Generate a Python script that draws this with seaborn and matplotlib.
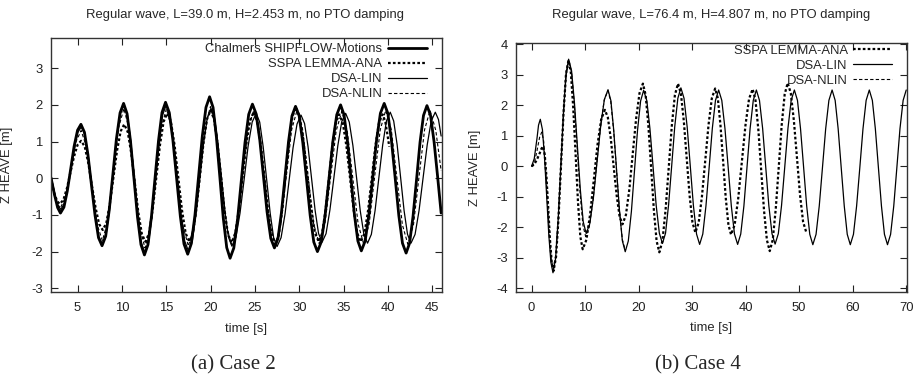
import matplotlib
matplotlib.use("Agg")
import matplotlib.pyplot as plt
import seaborn as sns

sns.set_theme(style="ticks")
plt.rcParams["font.family"] = ["Liberation Sans", "DejaVu Sans"]
plt.rcParams["axes.unicode_minus"] = False

# ---------------- Case 2 (left) ----------------
chalmers_t = [2.0, 2.4, 2.75,
              3.07, 3.46, 3.84, 4.23, 4.61, 5.0,
              5.38, 5.78, 6.17, 6.57, 6.97, 7.36,
              7.76, 8.17, 8.57, 8.98, 9.38, 9.79,
              10.19, 10.58, 10.97, 11.37, 11.76, 12.15,
              12.54, 12.94, 13.33, 13.73, 14.13, 14.52,
              14.92, 15.34, 15.75, 16.17, 16.59, 17.0,
              17.42, 17.83, 18.24, 18.66, 19.07, 19.48,
              19.89, 20.28, 20.66, 21.05, 21.43, 21.82,
              22.20, 22.62, 23.04, 23.46, 23.88, 24.30,
              24.72, 25.13, 25.55, 25.96, 26.37, 26.79,
              27.20, 27.60, 27.99, 28.39, 28.79, 29.18,
              29.58, 29.99, 30.40, 30.82, 31.23, 31.64,
              32.05, 32.49, 32.92, 33.36, 33.79, 34.23,
              34.66, 35.05, 35.44, 35.83, 36.22, 36.61,
              37.0, 37.43, 37.86, 38.29, 38.72, 39.15,
              39.58, 39.99, 40.40, 40.82, 41.23, 41.64,
              42.05, 42.44, 42.83, 43.23, 43.62, 44.01,
              44.40, 44.8, 45.2, 45.6, 46.0]
chalmers_z = [0.02, -0.45, -0.80,
              -0.95, -0.79, -0.35, 0.26, 0.87, 1.31,
              1.47, 1.25, 0.64, -0.19, -1.01, -1.62,
              -1.84, -1.58, -0.87, 0.10, 1.07, 1.78,
              2.04, 1.76, 1.01, -0.03, -1.06, -1.81,
              -2.09, -1.81, -1.05, -0.01, 1.03, 1.79,
              2.07, 1.79, 1.04, 0.0, -1.04, -1.79,
              -2.07, -1.78, -1.0, 0.08, 1.15, 1.93,
              2.22, 1.93, 1.12, 0.02, -1.08, -1.89,
              -2.18, -1.90, -1.13, -0.08, 0.97, 1.74,
              2.02, 1.76, 1.04, 0.06, -0.92, -1.64,
              -1.90, -1.64, -0.94, 0.03, 1.0, 1.70,
              1.96, 1.70, 0.97, -0.02, -1.01, -1.74,
              -2.0, -1.73, -1.0, 0.0, 1.0, 1.73,
              2.0, 1.73, 1.0, 0.01, -0.99, -1.71,
              -1.98, -1.71, -0.98, 0.03, 1.04, 1.77,
              2.04, 1.77, 1.02, 0.0, -1.02, -1.77,
              -2.04, -1.77, -1.04, -0.03, 0.98, 1.71,
              1.98, 1.72, 1.0, 0.05, -0.95]

sspa2_t = [2.0, 2.4, 2.7,
           3.0, 3.4, 3.8, 4.2, 4.6, 5.0,
           5.40, 5.81, 6.21, 6.62, 7.03, 7.43,
           7.84, 8.24, 8.65, 9.05, 9.45, 9.86,
           10.26, 10.66, 11.06, 11.46, 11.85, 12.25,
           12.65, 13.06, 13.47, 13.88, 14.29, 14.70,
           15.11, 15.53, 15.94, 16.36, 16.77, 17.19,
           17.60, 18.0, 18.4, 18.8, 19.2, 19.6,
           20.0, 20.39, 20.78, 21.18, 21.57, 21.96,
           22.35, 22.77, 23.18, 23.60, 24.02, 24.43,
           24.85, 25.26, 25.67, 26.08, 26.48, 26.89,
           27.30, 27.69, 28.07, 28.46, 28.85, 29.23,
           29.62, 30.05, 30.48, 30.91, 31.34, 31.77,
           32.20, 32.58, 32.97, 33.35, 33.73, 34.12,
           34.50, 34.91, 35.32, 35.73, 36.13, 36.54,
           36.95, 37.36, 37.77, 38.18, 38.58, 38.99,
           39.40, 39.7, 40.0, 40.15]
sspa2_z = [0.0, -0.42, -0.63,
           -0.70, -0.59, -0.27, 0.16, 0.59, 0.91,
           1.02, 0.86, 0.41, -0.20, -0.80, -1.25,
           -1.41, -1.22, -0.69, 0.03, 0.75, 1.28,
           1.47, 1.26, 0.67, -0.13, -0.93, -1.52,
           -1.73, -1.50, -0.86, 0.02, 0.90, 1.54,
           1.77, 1.54, 0.90, 0.02, -0.86, -1.50,
           -1.73, -1.49, -0.84, 0.06, 0.96, 1.61,
           1.85, 1.61, 0.95, 0.05, -0.86, -1.52,
           -1.76, -1.52, -0.87, 0.02, 0.91, 1.56,
           1.80, 1.56, 0.90, 0.0, -0.90, -1.56,
           -1.80, -1.55, -0.87, 0.07, 1.0, 1.68,
           1.93, 1.69, 1.02, 0.10, -0.82, -1.49,
           -1.73, -1.50, -0.86, 0.0, 0.87, 1.51,
           1.74, 1.51, 0.87, 0.0, -0.86, -1.50,
           -1.73, -1.50, -0.86, 0.0, 0.87, 1.51,
           1.74, 1.55, 1.1, 0.86]

dsalin2_t = [2.0, 2.4, 2.75,
             3.10, 3.49, 3.87, 4.26, 4.65, 5.03,
             5.42, 5.82, 6.21, 6.61, 7.01, 7.40,
             7.80, 8.20, 8.61, 9.01, 9.41, 9.82,
             10.22, 10.62, 11.01, 11.41, 11.81, 12.20,
             12.60, 13.0, 13.4, 13.8, 14.2, 14.6,
             15.0, 15.42, 15.83, 16.25, 16.67, 17.08,
             17.50, 17.93, 18.35, 18.78, 19.20, 19.63,
             20.05, 20.44, 20.83, 21.23, 21.62, 22.01,
             22.40, 22.86, 23.32, 23.78, 24.23, 24.69,
             25.15, 25.54, 25.93, 26.33, 26.72, 27.11,
             27.50, 27.95, 28.40, 28.85, 29.30, 29.75,
             30.20, 30.60, 30.99, 31.39, 31.79, 32.18,
             32.58, 33.02, 33.46, 33.91, 34.35, 34.79,
             35.23, 35.64, 36.05, 36.47, 36.88, 37.29,
             37.70, 38.13, 38.55, 38.98, 39.41, 39.83,
             40.26, 40.65, 41.04, 41.43, 41.82, 42.21,
             42.60, 43.06, 43.51, 43.97, 44.43, 44.88,
             45.34, 45.7, 46.0]
dsalin2_z = [0.0, -0.42, -0.72,
             -0.85, -0.70, -0.29, 0.28, 0.84, 1.25,
             1.40, 1.19, 0.60, -0.20, -1.0, -1.59,
             -1.80, -1.55, -0.85, 0.10, 1.05, 1.75,
             2.00, 1.73, 0.99, -0.02, -1.02, -1.76,
             -2.03, -1.76, -1.02, -0.02, 0.99, 1.73,
             2.0, 1.73, 1.0, 0.01, -0.99, -1.71,
             -1.98, -1.72, -1.01, -0.04, 0.93, 1.64,
             1.90, 1.65, 0.96, 0.03, -0.91, -1.60,
             -1.85, -1.61, -0.95, -0.04, 0.87, 1.53,
             1.77, 1.53, 0.86, -0.05, -0.95, -1.62,
             -1.86, -1.62, -0.97, -0.07, 0.83, 1.48,
             1.72, 1.49, 0.86, -0.01, -0.88, -1.51,
             -1.74, -1.51, -0.86, 0.02, 0.89, 1.54,
             1.77, 1.53, 0.89, 0.0, -0.89, -1.53,
             -1.77, -1.53, -0.88, 0.02, 0.91, 1.56,
             1.80, 1.56, 0.91, 0.02, -0.88, -1.53,
             -1.77, -1.53, -0.88, 0.02, 0.91, 1.56,
             1.80, 1.6, 1.15]

dsanlin2_t = [2.0, 2.5,
              3.05, 3.64, 4.23, 4.81,
              5.40, 6.0, 6.6, 7.2,
              7.80, 8.41, 9.01, 9.62,
              10.22, 10.82, 11.41, 12.01,
              12.60, 13.21, 13.81, 14.42,
              15.02, 15.64, 16.26, 16.88,
              17.50, 18.12, 18.74, 19.36,
              19.98, 20.57, 21.17, 21.76,
              22.35, 22.98, 23.60, 24.23,
              24.85, 25.46, 26.08, 26.69,
              27.30, 27.91, 28.53, 29.14,
              29.75, 30.38, 31.0, 31.63,
              32.25, 32.89, 33.53, 34.16,
              34.80, 35.41, 36.03, 36.64,
              37.25, 37.88, 38.50, 39.13,
              39.75, 40.38, 41.0, 41.63,
              42.25, 42.88, 43.50, 44.13,
              44.75, 45.4, 46.0]
dsanlin2_z = [0.0, -0.6,
              -0.82, -0.51, 0.24, 0.99,
              1.30, 0.86, -0.20, -1.26,
              -1.70, -1.17, 0.10, 1.37,
              1.90, 1.34, 0.0, -1.34,
              -1.90, -1.34, 0.0, 1.34,
              1.90, 1.35, 0.03, -1.30,
              -1.85, -1.29, 0.05, 1.39,
              1.95, 1.40, 0.08, -1.25,
              -1.80, -1.27, 0.03, 1.32,
              1.85, 1.32, 0.03, -1.27,
              -1.80, -1.27, 0.03, 1.32,
              1.85, 1.32, 0.04, -1.25,
              -1.78, -1.25, 0.02, 1.29,
              1.82, 1.29, 0.02, -1.25,
              -1.78, -1.25, 0.04, 1.32,
              1.85, 1.32, 0.03, -1.27,
              -1.80, -1.27, 0.03, 1.32,
              1.85, 1.3, 0.2]

# ---------------- Case 4 (right) ----------------
sspa4_t = [0.0, 0.5, 1.0, 1.5, 1.85,
           2.13, 2.46, 2.79, 3.12, 3.44, 3.77,
           4.1, 4.57, 5.03, 5.50, 5.97, 6.43,
           6.9, 7.34, 7.78, 8.23, 8.67, 9.11,
           9.55, 10.24, 10.93, 11.63, 12.32, 13.01,
           13.7, 14.25, 14.8, 15.35, 15.9, 16.45,
           17.0, 17.63, 18.27, 18.9, 19.53, 20.17,
           20.8, 21.31, 21.82, 22.34, 22.85, 23.36,
           23.87, 24.45, 25.03, 25.62, 26.20, 26.78,
           27.36, 27.9, 28.44, 28.98, 29.52, 30.06,
           30.6, 31.22, 31.83, 32.45, 33.07, 33.68,
           34.3, 34.8, 35.29, 35.79, 36.28, 36.78,
           37.27, 37.94, 38.61, 39.29, 39.96, 40.63,
           41.3, 41.83, 42.37, 42.9, 43.43, 43.97,
           44.5, 45.06, 45.62, 46.18, 46.73, 47.29,
           47.85, 48.43, 49.0, 49.58, 50.15, 50.73, 51.3]
sspa4_z = [0.0, 0.06, 0.22, 0.42, 0.58,
           0.65, 0.38, -0.37, -1.39, -2.41, -3.16,
           -3.43, -2.97, -1.70, 0.03, 1.75, 3.02,
           3.48, 3.07, 1.93, 0.38, -1.17, -2.31,
           -2.72, -2.41, -1.58, -0.44, 0.71, 1.54,
           1.85, 1.60, 0.91, -0.03, -0.96, -1.65,
           -1.90, -1.59, -0.75, 0.41, 1.56, 2.40,
           2.71, 2.34, 1.33, -0.06, -1.44, -2.45,
           -2.82, -2.45, -1.44, -0.06, 1.33, 2.34,
           2.71, 2.38, 1.49, 0.27, -0.95, -1.84,
           -2.17, -1.85, -0.99, 0.19, 1.37, 2.23,
           2.55, 2.23, 1.35, 0.16, -1.04, -1.92,
           -2.24, -1.92, -1.05, 0.15, 1.34, 2.21,
           2.53, 2.17, 1.20, -0.13, -1.45, -2.42,
           -2.78, -2.41, -1.40, -0.03, 1.35, 2.36,
           2.73, 2.40, 1.51, 0.29, -0.93, -1.82, -2.15]

dsalin4_t = [0.0, 0.5, 1.0, 1.3,
             1.63, 2.03, 2.42, 2.82, 3.21, 3.61,
             4.0, 4.49, 4.97, 5.46, 5.95, 6.43,
             6.92, 7.47, 8.01, 8.56, 9.11, 9.65,
             10.2, 10.88, 11.56, 12.24, 12.92, 13.60,
             14.28, 14.82, 15.35, 15.89, 16.43, 16.96,
             17.5, 18.07, 18.65, 19.22, 19.79, 20.37,
             20.94, 21.53, 22.11, 22.70, 23.28, 23.87,
             24.45, 25.03, 25.60, 26.18, 26.75, 27.33,
             27.9, 28.48, 29.07, 29.65, 30.23, 30.82,
             31.4, 31.99, 32.58, 33.18, 33.77, 34.36,
             34.95, 35.54, 36.13, 36.73, 37.32, 37.91,
             38.5, 39.08, 39.67, 40.25, 40.83, 41.42,
             42.0, 42.58, 43.17, 43.75, 44.33, 44.92,
             45.5, 46.1, 46.7, 47.3, 47.9, 48.5,
             49.1, 49.68, 50.25, 50.83, 51.40, 51.98,
             52.55, 53.15, 53.75, 54.35, 54.95, 55.55,
             56.15, 56.72, 57.28, 57.85, 58.42, 58.98,
             59.55, 60.14, 60.73, 61.33, 61.92, 62.51,
             63.1, 63.67, 64.23, 64.80, 65.37, 65.93,
             66.5, 67.08, 67.67, 68.25, 68.83, 69.42, 70.0]
dsalin4_z = [0.0, 0.25, 0.9, 1.35,
             1.54, 1.20, 0.28, -0.98, -2.23, -3.15,
             -3.49, -3.02, -1.74, 0.01, 1.76, 3.04,
             3.51, 3.13, 2.08, 0.66, -0.77, -1.82,
             -2.2, -1.88, -1.02, 0.16, 1.33, 2.19,
             2.51, 2.15, 1.18, -0.15, -1.47, -2.44,
             -2.8, -2.45, -1.48, -0.16, 1.17, 2.14,
             2.49, 2.15, 1.24, -0.02, -1.28, -2.19,
             -2.53, -2.19, -1.26, 0.02, 1.30, 2.23,
             2.57, 2.23, 1.29, 0.01, -1.28, -2.22,
             -2.56, -2.22, -1.30, -0.03, 1.24, 2.16,
             2.50, 2.16, 1.24, -0.03, -1.30, -2.22,
             -2.56, -2.22, -1.30, -0.03, 1.24, 2.16,
             2.50, 2.16, 1.24, -0.03, -1.29, -2.21,
             -2.55, -2.21, -1.29, -0.03, 1.24, 2.16,
             2.50, 2.16, 1.23, -0.04, -1.30, -2.23,
             -2.57, -2.23, -1.30, -0.04, 1.23, 2.16,
             2.50, 2.16, 1.23, -0.04, -1.30, -2.23,
             -2.57, -2.23, -1.30, -0.04, 1.23, 2.16,
             2.50, 2.16, 1.23, -0.04, -1.30, -2.23,
             -2.57, -2.23, -1.30, -0.04, 1.23, 2.16, 2.50]

dsanlin4_t = [0.0, 0.5, 1.0, 1.5,
              1.9, 2.26, 2.62, 2.98, 3.33, 3.69,
              4.05, 4.53, 5.02, 5.50, 5.98, 6.47,
              6.95, 7.48, 8.0, 8.53, 9.05, 9.58,
              10.1, 10.79, 11.48, 12.18, 12.87, 13.56,
              14.25, 14.79, 15.33, 15.88, 16.42, 16.96, 17.5]
dsanlin4_z = [0.0, 0.1, 0.5, 0.95,
              1.12, 0.82, 0.0, -1.12, -2.23, -3.05,
              -3.35, -2.89, -1.65, 0.05, 1.75, 2.99,
              3.45, 3.07, 2.01, 0.58, -0.86, -1.92,
              -2.30, -1.98, -1.11, 0.09, 1.29, 2.16,
              2.48, 2.13, 1.17, -0.14, -1.44, -2.40, -2.75]

titles = ["Regular wave, L=39.0 m, H=2.453 m, no PTO damping",
          "Regular wave, L=76.4 m, H=4.807 m, no PTO damping"]
captions = ["(a) Case 2", "(b) Case 4"]

FS = 9.4
fig = plt.figure(figsize=(9.15, 3.8), dpi=100)
ax1 = fig.add_axes([0.0557, 0.2316, 0.4270, 0.6692])
ax2 = fig.add_axes([0.5640, 0.2308, 0.4270, 0.6568])

# left panel
sns.lineplot(x=chalmers_t, y=chalmers_z, ax=ax1, color="black", linewidth=2.0,
             estimator=None, sort=False, label="Chalmers SHIPFLOW-Motions")
sns.lineplot(x=sspa2_t, y=sspa2_z, ax=ax1, color="black", linewidth=1.6,
             linestyle=(0, (1.2, 1.0)), estimator=None, sort=False, label="SSPA LEMMA-ANA")
sns.lineplot(x=dsalin2_t, y=dsalin2_z, ax=ax1, color="black", linewidth=0.9,
             estimator=None, sort=False, label="DSA-LIN")
sns.lineplot(x=dsanlin2_t, y=dsanlin2_z, ax=ax1, color="black", linewidth=0.8,
             linestyle=(0, (3, 2)), estimator=None, sort=False, label="DSA-NLIN")

# right panel
sns.lineplot(x=sspa4_t, y=sspa4_z, ax=ax2, color="black", linewidth=1.6,
             linestyle=(0, (1.2, 1.0)), estimator=None, sort=False, label="SSPA LEMMA-ANA")
sns.lineplot(x=dsalin4_t, y=dsalin4_z, ax=ax2, color="black", linewidth=0.9,
             estimator=None, sort=False, label="DSA-LIN")
sns.lineplot(x=dsanlin4_t, y=dsanlin4_z, ax=ax2, color="black", linewidth=0.8,
             linestyle=(0, (3, 2)), estimator=None, sort=False, label="DSA-NLIN")

ax1.set_xlim(2.0, 46.06)
ax1.set_ylim(-3.1, 3.83)
ax1.set_xticks(range(5, 46, 5))
ax1.set_yticks(range(-3, 4))
ax2.set_xlim(-2.9, 70.1)
ax2.set_ylim(-4.13, 4.05)
ax2.set_xticks(range(0, 71, 10))
ax2.set_yticks(range(-4, 5))

legend_anchor = [(0.962, 0.978), (0.962, 0.992)]
for ax, anchor in zip([ax1, ax2], legend_anchor):
    for sp in ax.spines.values():
        sp.set_visible(True)
        sp.set_linewidth(1.0)
        sp.set_color("#333333")
    ax.tick_params(direction="in", top=True, right=True, length=5, width=0.8,
                   labelsize=FS, colors="#222222")
    ax.tick_params(axis="x", pad=7)
    ax.tick_params(axis="y", pad=6)
    ax.set_xlabel("time [s]", fontsize=FS)
    ax.set_ylabel("Z HEAVE [m]", fontsize=FS)
    ax.xaxis.set_label_coords(0.5, -0.12)
    ax.legend(loc="upper right", bbox_to_anchor=anchor, frameon=False,
              markerfirst=False, fontsize=FS, handlelength=3.0, handletextpad=0.4,
              labelspacing=0.22, borderaxespad=0.0, borderpad=0.0)

ax1.yaxis.set_label_coords(-0.097, 0.5)
ax2.yaxis.set_label_coords(-0.090, 0.5)

fig.text(0.268, 0.9605, titles[0], ha="center", va="center", fontsize=FS)
fig.text(0.777, 0.9605, titles[1], ha="center", va="center", fontsize=FS)
for xc, cap in zip([0.255, 0.763], captions):
    fig.text(xc, 0.039, cap, ha="center", va="center", fontsize=15,
             family=["Liberation Serif", "DejaVu Serif"])

fig.savefig("out.png", dpi=100)
